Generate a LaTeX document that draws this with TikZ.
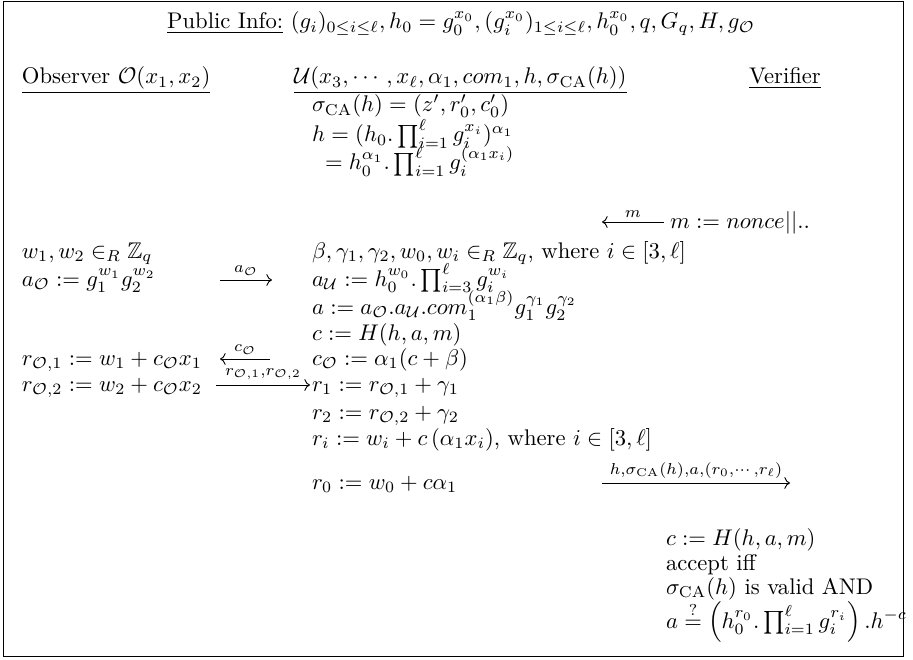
\documentclass[tikz,border=0pt]{standalone}
\usepackage{amsmath,amssymb}
\usepackage{tikz}
\usetikzlibrary{positioning,arrows.meta}

\begin{document}
\begin{tikzpicture}[
  x=0.4418pt, y=-0.4418pt,
  txt/.style={anchor=base west, inner sep=0pt, outer sep=0pt},
  msg/.style={-{Computer Modern Rightarrow}, line width=0.4pt},
  lbl/.style={above, inner sep=2pt},
]
  \useasboundingbox (0,0) rectangle (913,660);
  % frame
  \draw[line width=0.4pt] (3,1) rectangle (903,656);

  % public info and headers
  \node[anchor=base, inner sep=0pt] (info) at (461,29)
    {\underline{Public Info:} $(g_i)_{0\le i\le\ell}, h_0=g_0^{x_0}, (g_i^{x_0})_{1\le i\le\ell}, h_0^{x_0}, q, G_q, H, g_{\mathcal{O}}$};
  \node[txt] (obs) at (22,84) {\underline{Observer $\mathcal{O}(x_1,x_2)$}};
  \node[txt] (usr) at (294,84)
    {$\underline{\mathcal{U}(x_3,\cdots,x_\ell,\alpha_1,com_1,h,\sigma_{\mathrm{CA}}(h))}$};
  \node[txt] (ver) at (749,84) {\underline{Verifier}};

  % user setup
  \node[txt] (sig) at (312,112) {$\sigma_{\mathrm{CA}}(h)=(z',r'_0,c'_0)$};
  \node[txt] (h-def) at (312,142) {$h=(h_0.\prod_{i=1}^{\ell}g_i^{x_i})^{\alpha_1}$};
  \node[txt] (h-exp) at (325,170) {$=h_0^{\alpha_1}.\prod_{i=1}^{\ell}g_i^{(\alpha_1x_i)}$};

  % verifier nonce
  \node[txt] (nonce) at (670,228) {$m:=nonce||..$};
  \coordinate (m-from) at (664,222);
  \coordinate (m-to) at (602,222);

  % observer commitment
  \node[txt] (w-obs) at (22,258) {$w_1,w_2\in_R\mathbb{Z}_q$};
  \node[txt] (a-obs) at (22,286) {$a_{\mathcal{O}}:=g_1^{w_1}g_2^{w_2}$};
  \coordinate (aO-from) at (220,280);
  \coordinate (aO-to) at (272,280);

  % user commitment
  \node[txt] (w-usr) at (312,258)
    {$\beta,\gamma_1,\gamma_2,w_0,w_i\in_R\mathbb{Z}_q$, where $i\in[3,\ell]$};
  \node[txt] (a-usr) at (312,286) {$a_{\mathcal{U}}:=h_0^{w_0}.\prod_{i=3}^{\ell}g_i^{w_i}$};
  \node[txt] (a) at (312,314)
    {$a:=a_{\mathcal{O}}.a_{\mathcal{U}}.com_1^{(\alpha_1\beta)}g_1^{\gamma_1}g_2^{\gamma_2}$};
  \node[txt] (c) at (312,340) {$c:=H(h,a,m)$};
  \node[txt] (cO) at (312,365) {$c_{\mathcal{O}}:=\alpha_1(c+\beta)$};

  % observer responses
  \node[txt] (r-o1) at (22,365) {$r_{\mathcal{O},1}:=w_1+c_{\mathcal{O}}x_1$};
  \node[txt] (r-o2) at (22,391) {$r_{\mathcal{O},2}:=w_2+c_{\mathcal{O}}x_2$};
  \coordinate (cO-from) at (270,359);
  \coordinate (cO-to) at (220,359);
  \coordinate (r-from) at (216,385);
  \coordinate (r-to) at (310,385);

  % user responses
  \node[txt] (r1) at (312,391) {$r_1:=r_{\mathcal{O},1}+\gamma_1$};
  \node[txt] (r2) at (312,419) {$r_2:=r_{\mathcal{O},2}+\gamma_2$};
  \node[txt] (ri) at (312,445) {$r_i:=w_i+c\,(\alpha_1x_i)$, where $i\in[3,\ell]$};
  \node[txt] (r0) at (312,489) {$r_0:=w_0+c\alpha_1$};
  \coordinate (pf-from) at (602,483);
  \coordinate (pf-to) at (790,483);

  % verification
  \node[txt] (c-ver) at (666,545) {$c:=H(h,a,m)$};
  \node[txt] (acc) at (666,570) {accept iff};
  \node[txt] (valid) at (666,594) {$\sigma_{\mathrm{CA}}(h)$ is valid AND};
  \node[txt] (check) at (666,628)
    {$a\overset{?}{=}\left(h_0^{r_0}.\prod_{i=1}^{\ell}g_i^{r_i}\right).h^{-c}$};

  % messages
  \draw[msg] (m-from) -- node[lbl]{$\scriptstyle m$} (m-to);
  \draw[msg] (aO-from) -- node[lbl]{$\scriptstyle a_{\mathcal{O}}$} (aO-to);
  \draw[msg] (cO-from) -- node[lbl]{$\scriptstyle c_{\mathcal{O}}$} (cO-to);
  \draw[msg] (r-from) -- node[lbl]{$\scriptstyle r_{\mathcal{O},1},r_{\mathcal{O},2}$} (r-to);
  \draw[msg] (pf-from) -- node[lbl]{$\scriptstyle h,\sigma_{\mathrm{CA}}(h),a,(r_0,\cdots,r_\ell)$} (pf-to);
\end{tikzpicture}
\end{document}
